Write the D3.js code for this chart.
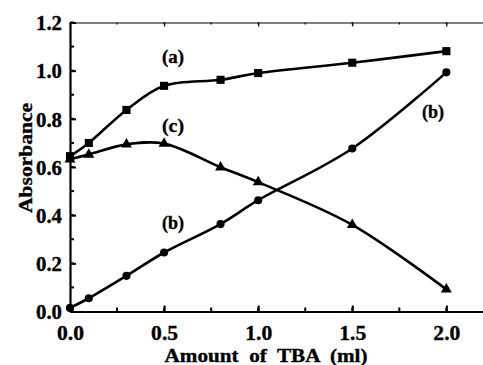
<!DOCTYPE html>
<html>
<head>
<meta charset="utf-8">
<script src="https://cdn.jsdelivr.net/npm/d3@7"></script>
<style>
  html, body { margin: 0; padding: 0; background: #fff; }
  svg { display: block; }
  text { font-family: "Liberation Serif", "Times New Roman", serif; font-weight: bold; fill: #000; stroke: #000; stroke-width: 0.35px; }
</style>
</head>
<body>
<svg id="chart" width="483" height="365"></svg>
<script>
// Amount of TBA added (ml)
const tbaAmounts = [0, 0.1, 0.3, 0.5, 0.8, 1.0, 1.5, 2.0];
// Absorbance for each series
const seriesA = [0.645, 0.70, 0.837, 0.937, 0.962, 0.99, 1.033, 1.081];
const seriesB = [0.015, 0.055, 0.148, 0.245, 0.363, 0.462, 0.677, 0.993];
const seriesC = [0.632, 0.652, 0.694, 0.697, 0.599, 0.537, 0.36, 0.092];
const xTickValues = [0, 0.5, 1.0, 1.5, 2.0];
const yTickValues = [0, 0.2, 0.4, 0.6, 0.8, 1.0, 1.2];
const xTitle = "Amount  of  TBA  (ml)";
const yTitle = "Absorbance";

const svg = d3.select("#chart");
const x = d3.scaleLinear().domain([0, 2.2]).range([70, 484]);
const y = d3.scaleLinear().domain([0, 1.2]).range([311.5, 22.5]);

const fmt = d3.format(".1f");

// Minor ticks
const xMinor = d3.range(0, 2.21, 0.25);
const yMinor = d3.range(0, 1.21, 0.1);

// Bottom axis (ticks pointing inward)
const xAxis = svg.append("g").attr("transform", `translate(0,${y(0)})`)
  .call(d3.axisBottom(x).tickValues(xTickValues).tickFormat(fmt).tickSizeInner(-6).tickSizeOuter(0).tickPadding(14));
xAxis.append("g").selectAll("line").data(xMinor).join("line")
  .attr("x1", d => x(d)).attr("x2", d => x(d)).attr("y1", 0).attr("y2", -4)
  .attr("stroke", "#000").attr("stroke-width", 2);

// Left axis (ticks pointing inward)
const yAxis = svg.append("g").attr("transform", `translate(${x(0)},0)`)
  .call(d3.axisLeft(y).tickValues(yTickValues).tickFormat(fmt).tickSizeInner(-6).tickSizeOuter(0).tickPadding(8));
yAxis.append("g").selectAll("line").data(yMinor).join("line")
  .attr("y1", d => y(d)).attr("y2", d => y(d)).attr("x1", 0).attr("x2", 4)
  .attr("stroke", "#000").attr("stroke-width", 2);

// Top frame with mirrored ticks
const topAxis = svg.append("g").attr("transform", `translate(0,${y(1.2)})`)
  .call(d3.axisTop(x).tickValues(xTickValues).tickFormat("").tickSizeInner(-4).tickSizeOuter(0));
topAxis.append("g").selectAll("line").data(xMinor).join("line")
  .attr("x1", d => x(d)).attr("x2", d => x(d)).attr("y1", 0).attr("y2", 2)
  .attr("stroke", "#000").attr("stroke-width", 1.2);
topAxis.select(".domain").attr("stroke-width", 1.2);

[xAxis, yAxis].forEach(g => {
  g.select(".domain").attr("stroke-width", 2.2);
  g.selectAll(".tick line").attr("stroke-width", 2);
  g.selectAll(".tick text").style("font-size", "20px").attr("font-family", null);
});
xAxis.selectAll(".tick text").attr("textLength", 27).attr("lengthAdjust", "spacingAndGlyphs");
yAxis.selectAll(".tick text").attr("textLength", 26).attr("lengthAdjust", "spacingAndGlyphs").attr("dy", "0.36em");
topAxis.selectAll(".tick line").attr("stroke-width", 1.2);

// Axis titles
svg.append("text").attr("x", 266).attr("y", 362).attr("text-anchor", "middle")
  .style("font-size", "19px").style("white-space", "pre")
  .attr("textLength", 203).attr("lengthAdjust", "spacingAndGlyphs")
  .text(xTitle);
svg.append("text").attr("transform", "translate(32,158) rotate(-90)").attr("text-anchor", "middle")
  .style("font-size", "19px").attr("textLength", 110).attr("lengthAdjust", "spacingAndGlyphs")
  .text(yTitle);

// Series curves
const line = d3.line().x(d => x(d[0])).y(d => y(d[1])).curve(d3.curveCatmullRom.alpha(0.5));
const series = [
  { vals: seriesA, shape: d3.symbolSquare, size: 66 },
  { vals: seriesB, shape: d3.symbolCircle, size: 52 },
  { vals: seriesC, shape: d3.symbolTriangle, size: 52 }
];
series.forEach(s => {
  const pts = tbaAmounts.map((t, i) => [t, s.vals[i]]);
  svg.append("path").datum(pts).attr("d", line)
    .attr("fill", "none").attr("stroke", "#000").attr("stroke-width", 2.6);
  svg.append("g").selectAll("path").data(pts).join("path")
    .attr("transform", d => `translate(${x(d[0])},${y(d[1])})`)
    .attr("d", d3.symbol().type(s.shape).size(s.size))
    .attr("fill", "#000");
});

// Series labels
const labels = [
  { t: "(a)", px: 173, py: 63 },
  { t: "(c)", px: 173, py: 132 },
  { t: "(b)", px: 173, py: 229 },
  { t: "(b)", px: 433, py: 118 }
];
svg.append("g").selectAll("text").data(labels).join("text")
  .attr("x", d => d.px).attr("y", d => d.py).attr("text-anchor", "middle")
  .style("font-size", "18px").attr("textLength", 22).attr("lengthAdjust", "spacingAndGlyphs")
  .text(d => d.t);
</script>
</body>
</html>
